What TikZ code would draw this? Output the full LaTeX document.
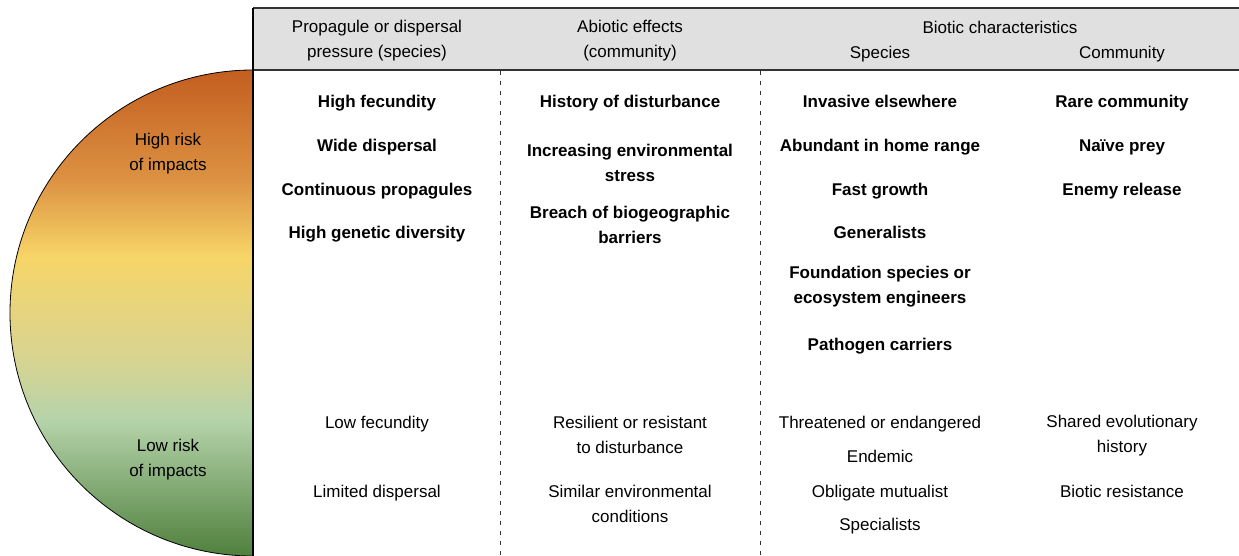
\documentclass[tikz,border=0pt]{standalone}
\usepackage{fontspec}
\setmainfont{Liberation Sans}

\definecolor{headgray}{RGB}{224,224,224}
\definecolor{headline}{RGB}{50,50,50}
\definecolor{riskdark}{RGB}{195,94,32}
\definecolor{riskorange}{RGB}{220,146,66}
\definecolor{riskyellow}{RGB}{247,213,104}
\definecolor{riskpale}{RGB}{214,212,146}
\definecolor{risklight}{RGB}{181,211,170}
\definecolor{riskgreen}{RGB}{79,128,61}

\pgfdeclareverticalshading{riskshade}{100bp}{color(0bp)=(riskgreen); color(25bp)=(riskgreen);
  color(39bp)=(risklight); color(45bp)=(riskpale); color(55.8bp)=(riskyellow);
  color(63.7bp)=(riskorange); color(75bp)=(riskdark); color(100bp)=(riskdark)}

\begin{document}
\begin{tikzpicture}[x=1pt,y=-1pt]
                        \tikzstyle{txt}=[inner sep=0pt, align=center, font=\fontsize{17}{25}\selectfont]
                        \tikzstyle{oneline}=[text height=12.2pt, text depth=0pt]
                        \tikzstyle{high}=[txt, oneline, font=\fontsize{17}{25}\selectfont\bfseries]
                        \tikzstyle{highpair}=[txt, font=\fontsize{17}{25}\selectfont\bfseries]
                        \tikzstyle{low}=[txt, oneline]
                        \tikzstyle{divider}=[headline, line width=1pt, dash pattern=on 4pt off 6pt]
                        \useasboundingbox (0,0) rectangle (1239,556);

                        % risk half disc
                        \shade[shading=riskshade, draw=black, line width=0.8pt]
                            (253,70) arc[start angle=90, end angle=270, radius=243pt] -- cycle;
                        \node[txt] (hirisk) at (168,153.5) {High risk\\of impacts};
                        \node[txt] (lorisk) at (168,460) {Low risk\\of impacts};

                        % header band
                        \fill[headgray] (253,8) rectangle (1239,70);
                        \draw[headline, line width=1.6pt] (253,8) -- (1239,8);
                        \draw[headline, line width=1.6pt] (253,70) -- (1239,70);
                        \draw[black, line width=2pt] (253,8) -- (253,556);
                        \draw[divider] (500,71) -- (500,556);
                        \draw[divider] (760,71) -- (760,556);

                        \node[txt] (prop) at (377,41) {Propagule or dispersal\\pressure (species)};
                        \node[txt] (abio) at (630,41) {Abiotic effects\\(community)};
                        \node[low] (biot) at (1000,27) {Biotic characteristics};
                        \node[low] (spec) at (880,52) {Species};
                        \node[low] (comm) at (1122,52) {Community};

                        % high risk traits
                        \node[high] (fecund) at (377,101) {High fecundity};
                        \node[high] (wide) at (377,145) {Wide dispersal};
                        \node[high] (contin) at (377,189) {Continuous propagules};
                        \node[high] (genet) at (377,232) {High genetic diversity};
                        \node[high] (histd) at (630,101) {History of disturbance};
                        \node[highpair] (stress) at (630,162.5) {Increasing environmental\\stress};
                        \node[highpair] (breach) at (630,224.5) {Breach of biogeographic\\barriers};
                        \node[high] (invas) at (880,101) {Invasive elsewhere};
                        \node[high] (abund) at (880,145) {Abundant in home range};
                        \node[high] (fast) at (880,189) {Fast growth};
                        \node[high] (gener) at (880,232) {Generalists};
                        \node[highpair] (found) at (880,286.5) {Foundation species or\\ecosystem engineers};
                        \node[high] (patho) at (880,344) {Pathogen carriers};
                        \node[high] (rare) at (1122,101) {Rare community};
                        \node[high] (naive) at (1122,145) {Naïve prey};
                        \node[high] (enemy) at (1122,189) {Enemy release};

                        % low risk traits
                        \node[low] (lowfec) at (377,422) {Low fecundity};
                        \node[low] (limdis) at (377,491) {Limited dispersal};
                        \node[txt] (resil) at (630,435) {Resilient or resistant\\to disturbance};
                        \node[txt] (simil) at (630,504) {Similar environmental\\conditions};
                        \node[low] (threat) at (880,422) {Threatened or endangered};
                        \node[low] (endem) at (880,456) {Endemic};
                        \node[low] (oblig) at (880,491) {Obligate mutualist};
                        \node[low] (speci) at (880,524) {Specialists};
                        \node[txt] (shared) at (1122,436) {Shared evolutionary\\history};
                        \node[low] (biores) at (1122,491) {Biotic resistance};
                    \end{tikzpicture}
\end{document}
